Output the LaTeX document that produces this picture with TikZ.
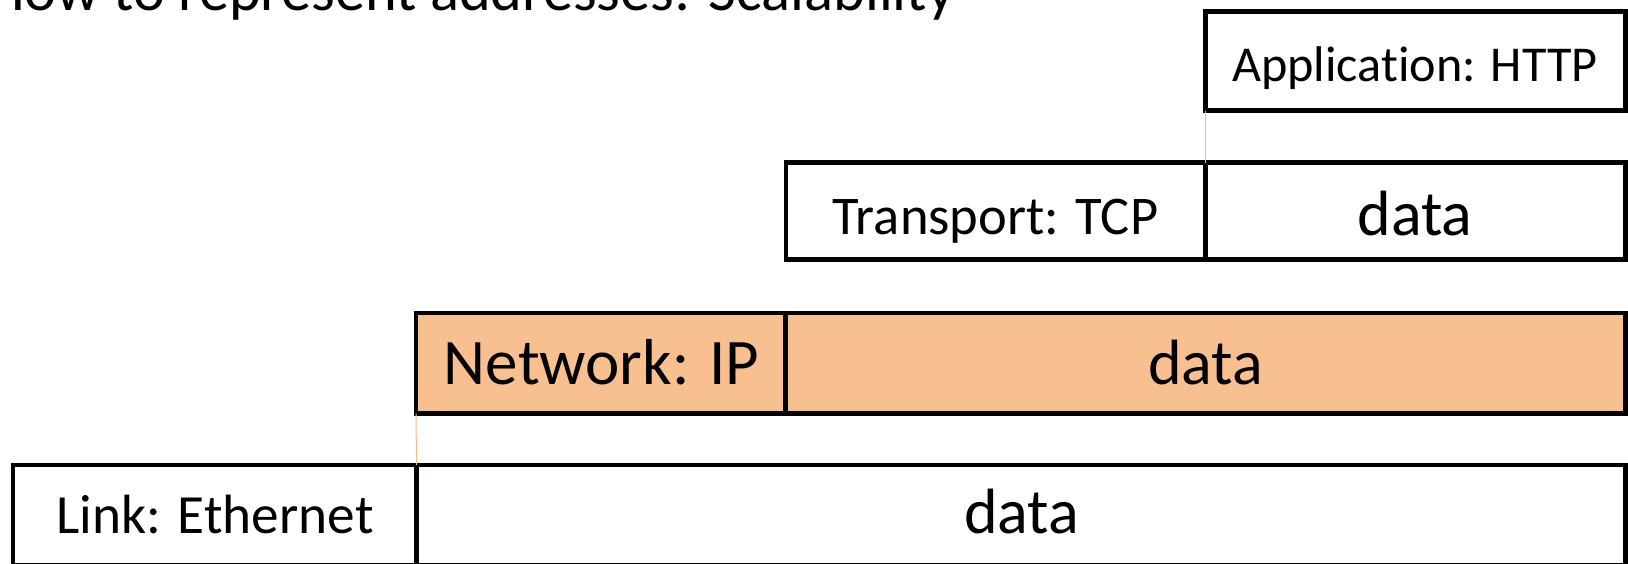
\documentclass[tikz,border=0pt]{standalone}
\usepackage{fontspec}
\setmainfont{Carlito}[Ligatures={NoCommon}]
\definecolor{ipfill}{HTML}{F8C090}
\definecolor{guide}{HTML}{F6B88A}
\begin{document}
\begin{tikzpicture}[x=1pt,y=-1pt,
  box/.style={draw=black,line width=4.7pt,rectangle,inner sep=0pt,outer sep=0pt,fill=white},
  ipbox/.style={box,fill=ipfill},
  lbl/.style={anchor=base,inner sep=0pt,text=black},
  guideline/.style={draw=guide,line width=1pt}]
\useasboundingbox (0,0) rectangle (1628,563);
\clip (0,0) rectangle (1628,563);
% title (cut off at top, as in the reference)
\node[anchor=base west,inner sep=0pt] (title) at (-13,10) {\fontsize{60.5}{66}\selectfont How to represent addresses: Scalability};
% application
\node[box,minimum width=419.7pt,minimum height=99pt] (app) at (1415.65,61.3) {};
% transport
\node[box,minimum width=419.8pt,minimum height=97pt] (thdr) at (995.9,211) {};
\node[box,minimum width=419.7pt,minimum height=97pt] (tdata) at (1415.65,211) {};
% network
\node[ipbox,minimum width=369.8pt,minimum height=100.5pt] (nhdr) at (600.9,363.25) {};
\node[ipbox,minimum width=839.7pt,minimum height=100.5pt] (ndata) at (1205.65,363.25) {};
% link
\node[box,minimum width=403.5pt,minimum height=100pt] (lhdr) at (214.75,515) {};
\node[box,minimum width=1209pt,minimum height=100pt] (ldata) at (1021,515) {};
% guides
\draw[guideline] (app.south west) -- (tdata.north west);
\draw[guideline] (nhdr.south west) -- (ldata.north west);
% labels
\node[lbl] (tapp) at (1415,81) {\fontsize{50.2}{56}\selectfont Application: HTTP};
\node[lbl] (tthdr) at (995.5,234.5) {\fontsize{54.5}{60}\selectfont Transport: TCP};
\node[lbl] (ttdata) at (1415,235) {\fontsize{64}{70}\selectfont data};
\node[lbl] (tnhdr) at (601.5,384) {\fontsize{65}{70}\selectfont Network: IP};
\node[lbl] (tndata) at (1205.5,384) {\fontsize{64}{70}\selectfont data};
\node[lbl] (tlhdr) at (215,533) {\fontsize{55.3}{60}\selectfont Link: Ethernet};
\node[lbl] (tldata) at (1021.5,533) {\fontsize{64}{70}\selectfont data};
\end{tikzpicture}
\end{document}
